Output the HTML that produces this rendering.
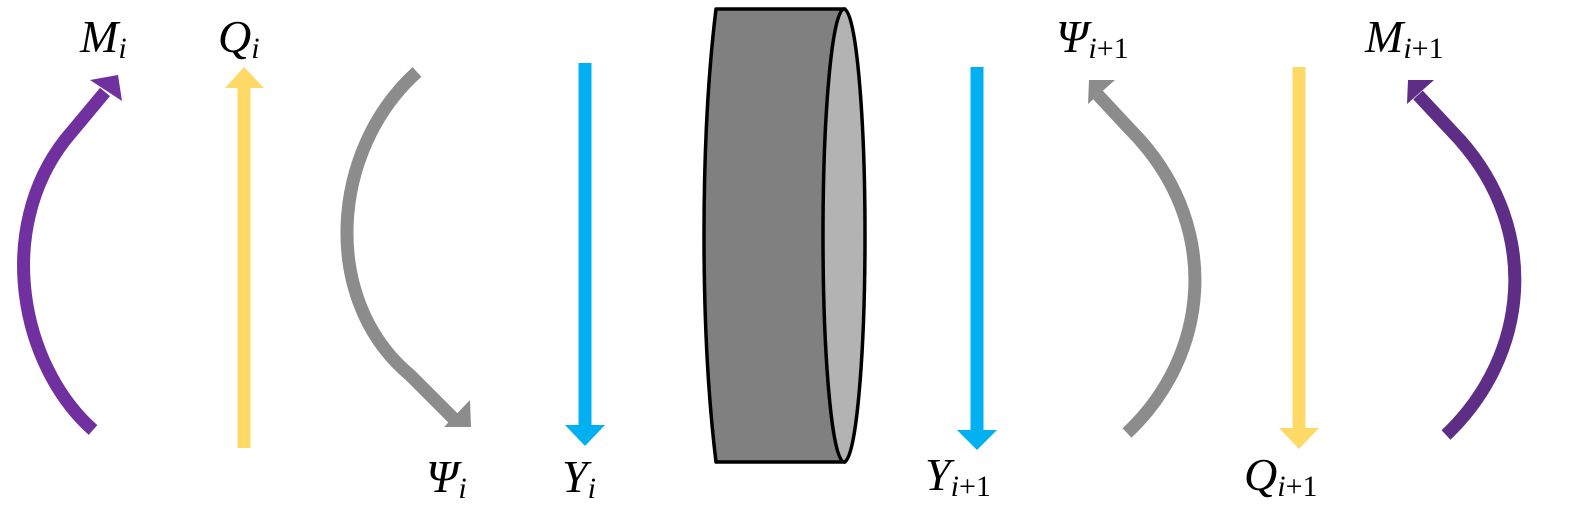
<!DOCTYPE html>
<html><head><style>
html,body{margin:0;padding:0;background:#fff;}
svg{display:block;}
text{font-family:"Liberation Serif","DejaVu Serif",serif;font-style:italic;fill:#000;}
.s{font-size:30px;}
.u{font-style:normal;}
</style></head><body>
<svg width="1575" height="522" viewBox="0 0 1575 522" xmlns="http://www.w3.org/2000/svg">
<path d="M93,430 C20,365 -5,230 65,140 L105,92" fill="none" stroke="#7030A0" stroke-width="13"/>
<polygon points="118,75 90,80 122,101" fill="#7030A0"/>
<line x1="244" y1="448" x2="244" y2="86" stroke="#FFD966" stroke-width="13"/>
<polygon points="225,88 264,88 244,67" fill="#FFD966"/>
<path d="M417,72 C330,150 320,300 410,375 L455,420" fill="none" stroke="#8C8C8C" stroke-width="13"/>
<polygon points="471,427 470,400 444,427" fill="#8C8C8C"/>
<line x1="585" y1="63" x2="585" y2="427" stroke="#00B0F0" stroke-width="13"/>
<polygon points="565,425 605,425 585,446" fill="#00B0F0"/>
<path d="M716,9 L845,9 L845,462 L716,462 C700,330 700,140 716,9 Z" fill="#808080" stroke="#000" stroke-width="3.5" stroke-linejoin="round"/>
<ellipse cx="844" cy="235.5" rx="21" ry="226.5" fill="#B3B3B3" stroke="#000" stroke-width="3.5"/>
<line x1="977" y1="67" x2="977" y2="432" stroke="#00B0F0" stroke-width="13"/>
<polygon points="957,430 997,430 977,450" fill="#00B0F0"/>
<path d="M1127,433 C1210,355 1220,230 1140,140 L1098,95" fill="none" stroke="#8C8C8C" stroke-width="13"/>
<polygon points="1089,80 1115,80 1088,104" fill="#8C8C8C"/>
<line x1="1299" y1="67" x2="1299" y2="430" stroke="#FFD966" stroke-width="13"/>
<polygon points="1279,428 1319,428 1299,449" fill="#FFD966"/>
<path d="M1446,435 C1530,355 1540,230 1460,140 L1418,95" fill="none" stroke="#5E2D85" stroke-width="13"/>
<polygon points="1408,80 1434,80 1407,104" fill="#5E2D85"/>
<text x="80" y="52" font-size="46">M<tspan class="s" dy="6">i</tspan></text>
<text x="218" y="52" font-size="46">Q<tspan class="s" dy="6">i</tspan></text>
<text x="426" y="492" font-size="46">Ψ<tspan class="s" dy="6">i</tspan></text>
<text x="562" y="492" font-size="46">Y<tspan class="s" dy="6">i</tspan></text>
<text x="1056" y="52" font-size="46">Ψ<tspan class="s" dy="6">i<tspan class="u">+1</tspan></tspan></text>
<text x="1365" y="52" font-size="46">M<tspan class="s" dy="6">i<tspan class="u">+1</tspan></tspan></text>
<text x="925" y="490" font-size="46">Y<tspan class="s" dy="6">i<tspan class="u">+1</tspan></tspan></text>
<text x="1244" y="490" font-size="46">Q<tspan class="s" dy="6">i<tspan class="u">+1</tspan></tspan></text>
</svg>
</body></html>
